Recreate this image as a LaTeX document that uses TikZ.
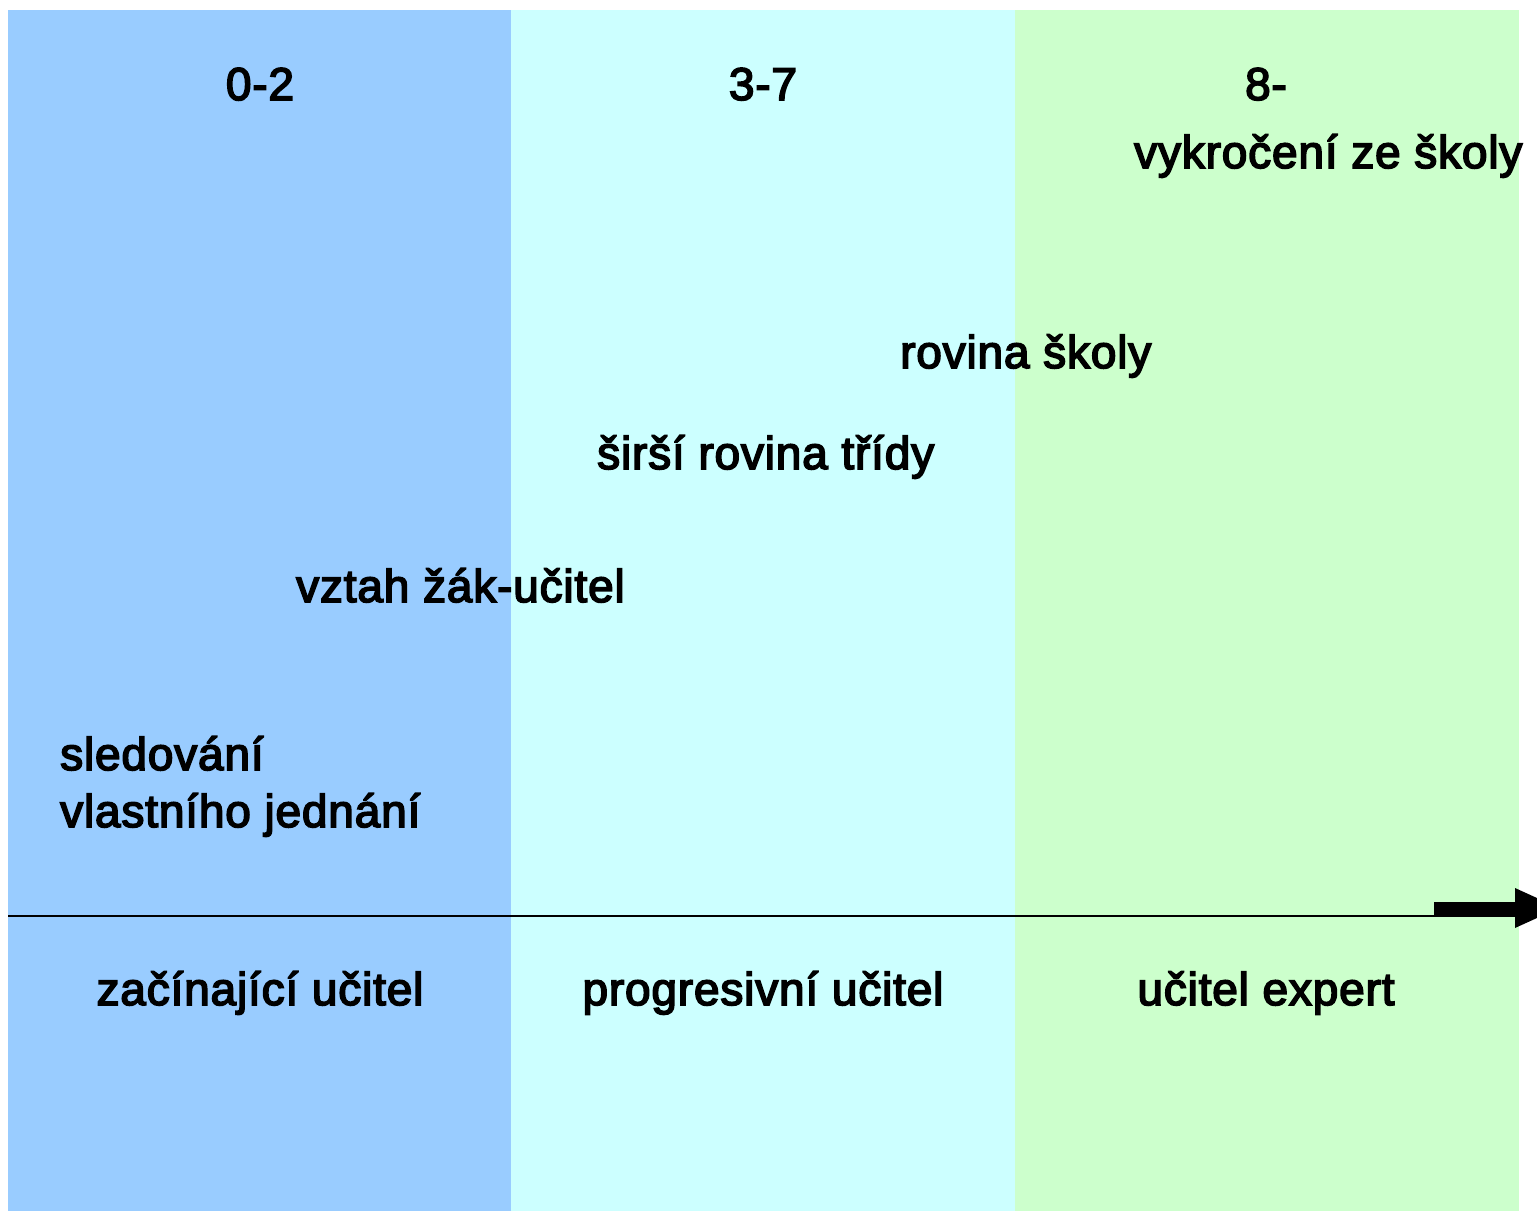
\documentclass[tikz,border=0pt]{standalone}
\usepackage{fontspec}
\setmainfont{Liberation Sans}[FakeBold=3.5,LetterSpace=1.8]
\definecolor{cblue}{HTML}{99CCFF}
\definecolor{ccyan}{HTML}{CCFFFF}
\definecolor{cgreen}{HTML}{CCFFCC}
\begin{document}
\begin{tikzpicture}[x=1pt,y=-1pt,
  lbl/.style={inner sep=0pt,font=\fontsize{46}{57}\selectfont},
  lblc/.style={lbl,anchor=base},
  lblw/.style={lbl,anchor=base west,align=left}]
\useasboundingbox (0,0) rectangle (1537,1211);
\fill[cblue] (8,10) rectangle (511,1211);
\fill[ccyan] (511,10) rectangle (1015,1211);
\fill[cgreen] (1015,10) rectangle (1519,1211);
% axis
\coordinate (axs) at (8,916);
\coordinate (axe) at (1519,916);
\draw[line width=1.4pt] (axs) -- (axe);
\fill[black] (1434,902) -- (1515,902) -- (1515,888) -- (1559,908) -- (1515,928) -- (1515,915) -- (1434,915) -- cycle;
% headings
\node[lblc] (h1) at (260,100) {0-2};
\node[lblc] (h2) at (763,100) {3-7};
\node[lblc] (h3) at (1266,100) {8-};
\node[lblw] (t4) at (1134,168) {vykročení ze školy};
\node[lblw] (t3) at (900,368) {rovina školy};
\node[lblw] (t2) at (597,469) {širší rovina třídy};
\node[lblw] (t1) at (296,602) {vztah žák-učitel};
\node[lblw] (t0a) at (60,770) {sledování};
\node[lblw] (t0b) at (60,827) {vlastního jednání};
\node[lblc] (b1) at (260,1005) {začínající učitel};
\node[lblc] (b2) at (763,1005) {progresivní učitel};
\node[lblc] (b3) at (1266,1005) {učitel expert};
\end{tikzpicture}
\end{document}
